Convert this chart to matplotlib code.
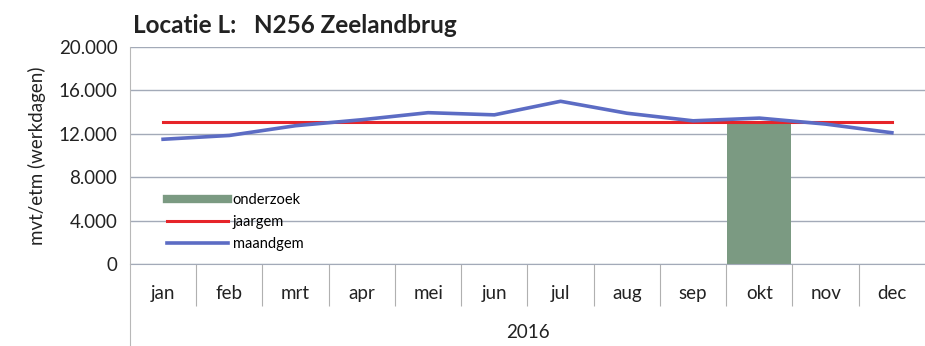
import matplotlib.pyplot as plt
from matplotlib.lines import Line2D
from matplotlib.ticker import FuncFormatter

plt.rcParams['font.family'] = ['Lato', 'DejaVu Sans']

# data
months = ['jan', 'feb', 'mrt', 'apr', 'mei', 'jun', 'jul', 'aug', 'sep', 'okt', 'nov', 'dec']
maandgem = [11500, 11850, 12750, 13300, 13950, 13750, 15000, 13900, 13200, 13450, 12900, 12100]
jaargem = [13100] * 12
onderzoek = [0, 0, 0, 0, 0, 0, 0, 0, 0, 13100, 0, 0]
yticks = [0, 4000, 8000, 12000, 16000, 20000]

bar_color = '#7b9a82'
red = '#e62429'
blue = '#5c6cc4'

fig = plt.figure(figsize=(9.25, 3.46), dpi=100)
ax = fig.add_axes([0.1405, 0.237, 0.8595, 0.627])

x = list(range(len(months)))
ax.bar(x, onderzoek, width=0.97, color=bar_color, zorder=2)
ax.plot(x, jaargem, color=red, lw=2.2, zorder=3)
ax.plot(x, maandgem, color=blue, lw=2.6, zorder=4)

ax.set_xlim(-0.5, 11.5)
ax.set_ylim(0, 20000)
ax.set_yticks(yticks)
ax.yaxis.set_major_formatter(FuncFormatter(lambda v, p: '0' if v == 0 else f'{int(v):,}'.replace(',', '.')))
ax.grid(axis='y', color='#a3aab8', lw=1.0, zorder=0)
ax.tick_params(axis='y', length=0, labelsize=13.5, pad=9, colors='#222222')

# category labels between long separator ticks
ax.set_xticks([i + 0.5 for i in x[:-1]])
ax.set_xticklabels([])
ax.tick_params(axis='x', length=30, width=0.8, color='#b0b0b0', direction='out')
for i, m in enumerate(months):
    ax.text(i, -0.134, m, transform=ax.get_xaxis_transform(), ha='center', va='center',
            fontsize=13.5, color='#222222')
ax.text(5.5, -0.318, '2016', transform=ax.get_xaxis_transform(), ha='center', va='center',
        fontsize=13.5, color='#222222')

for s in ['top', 'right', 'left']:
    ax.spines[s].set_visible(False)
ax.spines['bottom'].set_color('#a3aab8')

# left axis line running down through the label area
fig.add_artist(Line2D([0.1405, 0.1405], [0.0, 0.864], color='#b8b8b8', lw=0.8))

ax.set_ylabel('mvt/etm (werkdagen)', fontsize=13.5, labelpad=9, color='#222222')
fig.text(0.144, 0.925, 'Locatie L:   N256 Zeelandbrug', fontsize=17.5, fontweight='bold',
         ha='left', va='center', color='#222222')

handles = [Line2D([], [], color=bar_color, lw=6),
           Line2D([], [], color=red, lw=2.2),
           Line2D([], [], color=blue, lw=2.6)]
ax.legend(handles, ['onderzoek', 'jaargem', 'maandgem'], loc='lower left',
          bbox_to_anchor=(0.03, 0.0), frameon=False, fontsize=10.5,
          handlelength=4.2, handletextpad=0.3, labelspacing=0.55)

fig.savefig('out.png', dpi=100)
